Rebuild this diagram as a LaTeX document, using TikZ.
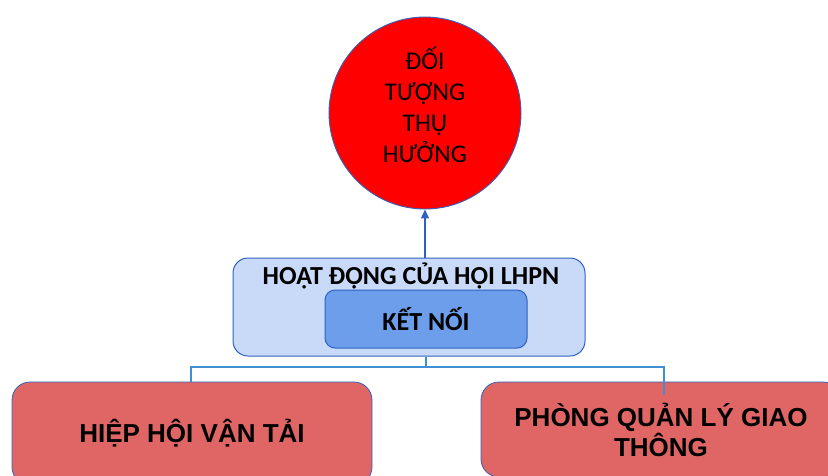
\documentclass[tikz,border=0pt]{standalone}
\usepackage{fontspec}
\setmainfont{Carlito}
\newfontfamily\arialfont{Liberation Sans}
\usetikzlibrary{arrows.meta,calc}

\definecolor{circred}{HTML}{FF0000}
\definecolor{edgeblue}{HTML}{2F62C0}
\definecolor{outerfill}{HTML}{C9DAF8}
\definecolor{innerfill}{HTML}{6D9EEB}
\definecolor{boxred}{HTML}{E06666}
\definecolor{linkblue}{HTML}{3F8FD2}

\tikzset{
  target/.style={circle, draw=edgeblue, line width=0.9pt, fill=circred,
    minimum size=192pt, inner sep=0pt},
  targetlabel/.style={align=center, inner sep=0pt,
    font=\fontsize{25.5}{31}\selectfont},
  groupbox/.style={draw=edgeblue, line width=1pt, fill=outerfill,
    rounded corners=15pt, minimum width=352pt, minimum height=98pt},
  grouplabel/.style={anchor=base, inner sep=0pt,
    font=\fontsize{26}{30}\selectfont\bfseries},
  corebox/.style={draw=edgeblue, line width=1pt, fill=innerfill,
    rounded corners=10pt, minimum width=202pt, minimum height=58pt,
    font=\fontsize{26}{30}\selectfont\bfseries},
  partner/.style={draw=edgeblue, line width=0.8pt, fill=boxred,
    rounded corners=18pt, align=center,
    font=\arialfont\fontsize{26}{30}\selectfont\bfseries},
  uplink/.style={draw=edgeblue, line width=1.2pt, -{Triangle[length=9pt,width=8pt]}},
  bus/.style={draw=linkblue, line width=1.2pt}
}

\begin{document}
\begin{tikzpicture}[x=1pt,y=-1pt]
  \clip (0,0) rectangle (828,475);
  \useasboundingbox (0,0) rectangle (828,475);

  % target group
  \node[target] (target) at (425,113) {};
  \node[targetlabel] (targettext) at (425,105) {ĐỐI\\TƯỢNG\\THỤ\\HƯỞNG};

  % activities of the union, with the connecting role inside
  \node[groupbox] (group) at (409,307) {};
  \node[grouplabel] (grouptitle) at (411,284) {HOẠT ĐỘNG CỦA HỘI LHPN};
  \node[corebox] (core) at (426,319) {KẾT NỐI};

  % partner organisations
  \node[partner, minimum width=360pt, minimum height=103pt] (transport) at (192,433.5) {HIỆP HỘI VẬN TẢI};
  \node[partner, minimum width=360pt, minimum height=95pt] (traffic) at (661,429.5) {PHÒNG QUẢN LÝ GIAO\\THÔNG};

  % arrow up to the target group
  \coordinate (upstart) at (425,258);
  \draw[uplink] (upstart) -- (target.south);

  % tree connector down to the partners
  \coordinate (busmid) at (426,367);
  \coordinate (busleft) at (191,367);
  \coordinate (busright) at (664,367);
  \coordinate (rightdrop) at (664,395);
  \draw[bus] (busmid |- group.south) -- (busmid);
  \draw[bus] (busleft |- transport.north) -- (busleft) -- (busright) -- (rightdrop);
\end{tikzpicture}
\end{document}
